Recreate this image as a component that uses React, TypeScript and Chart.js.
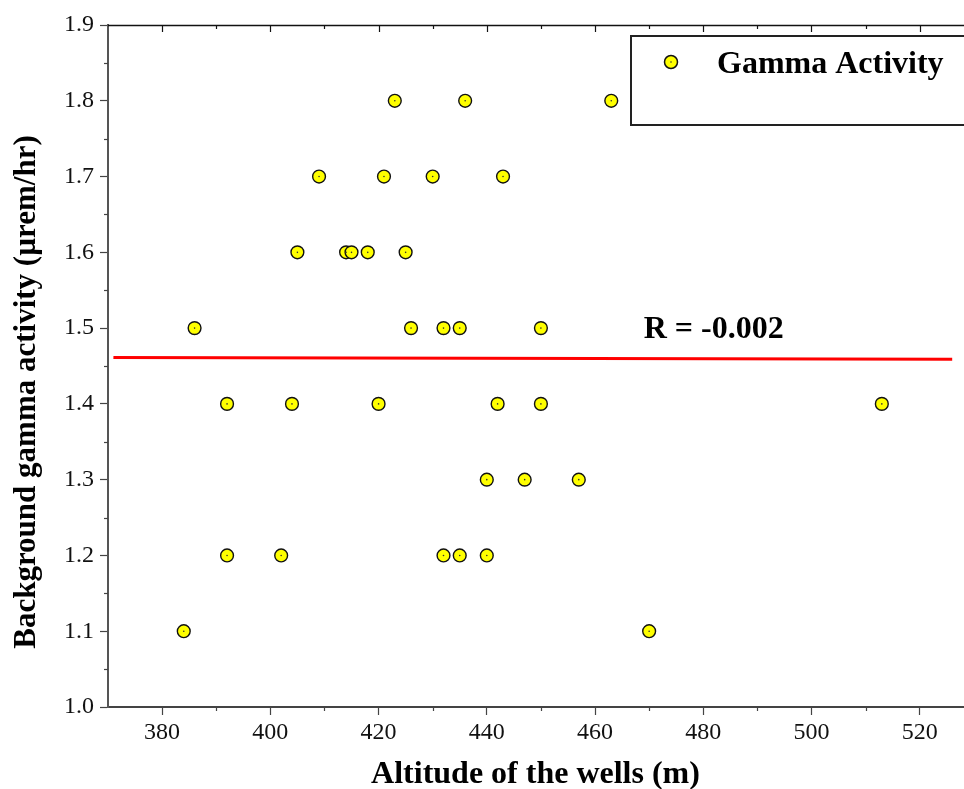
import React, { useEffect, useRef } from "react";
import { Chart, registerables } from "chart.js";

Chart.register(...registerables);

// ---- data ----
const altitude = [
  423, 436, 463,
  409, 421, 430, 443,
  405, 414, 415, 418, 425,
  386, 426, 432, 435, 450,
  392, 404, 420, 442, 450, 513,
  440, 447, 457,
  392, 402, 432, 435, 440,
  384, 470,
];
const gamma = [
  1.8, 1.8, 1.8,
  1.7, 1.7, 1.7, 1.7,
  1.6, 1.6, 1.6, 1.6, 1.6,
  1.5, 1.5, 1.5, 1.5, 1.5,
  1.4, 1.4, 1.4, 1.4, 1.4, 1.4,
  1.3, 1.3, 1.3,
  1.2, 1.2, 1.2, 1.2, 1.2,
  1.1, 1.1,
];
const fitX = [371, 526];
const fitY = [1.4613, 1.4588];

const xTickValues = [380, 400, 420, 440, 460, 480, 500, 520];
const xMinorTicks = [390, 410, 430, 450, 470, 490, 510];
const yTickValues = [1.0, 1.1, 1.2, 1.3, 1.4, 1.5, 1.6, 1.7, 1.8, 1.9];
const yMinorTicks = [1.05, 1.15, 1.25, 1.35, 1.45, 1.55, 1.65, 1.75, 1.85];

const xMin = 370;
const xMax = 528;
const yMin = 1.0;
const yMax = 1.9;

const seriesLabel = "Gamma Activity";
const rLabel = "R = -0.002";
const rLabelPos = { x: 469, y: 1.487 };
const xTitle = "Altitude of the wells (m)";
const yTitle = "Background gamma activity (\u00b5rem/hr)";

const FONT = '"Liberation Serif", "Times New Roman", Times, serif';

const decorPlugin = {
  id: "decor",
  afterDatasetsDraw(chart: any) {
    const { ctx, chartArea } = chart;
    const xs = chart.scales.x;
    const ys = chart.scales.y;
    ctx.save();
    // top frame line
    ctx.strokeStyle = "#111";
    ctx.lineWidth = 1.5;
    ctx.beginPath();
    ctx.moveTo(chartArea.left, chartArea.top + 0.5);
    ctx.lineTo(chart.width + 5, chartArea.top + 0.5);
    ctx.stroke();
    // top ticks (inward)
    ctx.lineWidth = 1.2;
    for (const v of xTickValues) {
      const px = Math.round(xs.getPixelForValue(v)) + 0.5;
      ctx.beginPath();
      ctx.moveTo(px, chartArea.top);
      ctx.lineTo(px, chartArea.top + 7);
      ctx.stroke();
    }
    for (const v of xMinorTicks) {
      const px = Math.round(xs.getPixelForValue(v)) + 0.5;
      ctx.beginPath();
      ctx.moveTo(px, chartArea.top);
      ctx.lineTo(px, chartArea.top + 4);
      ctx.stroke();
    }
    // bottom minor ticks (outward)
    ctx.strokeStyle = "#444";
    for (const v of xMinorTicks) {
      const px = Math.round(xs.getPixelForValue(v)) + 0.5;
      ctx.beginPath();
      ctx.moveTo(px, chartArea.bottom);
      ctx.lineTo(px, chartArea.bottom + 4);
      ctx.stroke();
    }
    // left minor ticks (outward)
    for (const v of yMinorTicks) {
      const py = Math.round(ys.getPixelForValue(v)) + 0.5;
      ctx.beginPath();
      ctx.moveTo(chartArea.left, py);
      ctx.lineTo(chartArea.left - 4, py);
      ctx.stroke();
    }
    ctx.restore();
  },
  afterDraw(chart: any) {
    const { ctx, chartArea } = chart;
    const xs = chart.scales.x;
    const ys = chart.scales.y;
    ctx.save();
    // y axis title
    ctx.save();
    ctx.translate(27, chartArea.top + (chartArea.bottom - chartArea.top) / 2 + 26);
    ctx.rotate(-Math.PI / 2);
    ctx.fillStyle = "#000";
    ctx.font = `bold 31px ${FONT}`;
    ctx.textAlign = "center";
    ctx.textBaseline = "middle";
    ctx.fillText(yTitle, 0, 0);
    ctx.restore();
    // R label
    ctx.fillStyle = "#000";
    ctx.font = `bold 32px ${FONT}`;
    ctx.textBaseline = "alphabetic";
    ctx.textAlign = "left";
    ctx.fillText(rLabel, xs.getPixelForValue(rLabelPos.x), ys.getPixelForValue(rLabelPos.y));
    // legend box
    const bx = chartArea.right - 332;
    const by = chartArea.top + 11;
    const bh = 89;
    ctx.fillStyle = "#fff";
    ctx.fillRect(bx, by, chart.width - bx + 10, bh);
    ctx.strokeStyle = "#222";
    ctx.lineWidth = 2;
    ctx.strokeRect(bx, by, chart.width - bx + 10, bh);
    // legend marker
    const mx = bx + 40;
    const my = by + 26;
    ctx.beginPath();
    ctx.arc(mx, my, 6.5, 0, Math.PI * 2);
    ctx.fillStyle = "#ffff00";
    ctx.fill();
    ctx.lineWidth = 1.5;
    ctx.strokeStyle = "#111";
    ctx.stroke();
    ctx.beginPath();
    ctx.arc(mx, my, 0.8, 0, Math.PI * 2);
    ctx.fillStyle = "#333";
    ctx.fill();
    // legend text
    ctx.fillStyle = "#000";
    ctx.font = `bold 32px ${FONT}`;
    ctx.textBaseline = "alphabetic";
    ctx.fillText(seriesLabel, bx + 86, by + 37);
    ctx.restore();
  },
};

export default function App() {
  const ref = useRef<HTMLCanvasElement | null>(null);
  useEffect(() => {
    if (!ref.current) return;
    const pts = altitude.map((x, i) => ({ x, y: gamma[i] }));
    const fit = fitX.map((x, i) => ({ x, y: fitY[i] }));
    const chart = new Chart(ref.current, {
      type: "scatter",
      data: {
        datasets: [
          {
            label: "centers",
            data: pts,
            pointRadius: 0.8,
            pointBackgroundColor: "#333",
            pointBorderWidth: 0,
            order: 0,
          } as any,
          {
            label: seriesLabel,
            data: pts,
            pointRadius: 6.4,
            pointBackgroundColor: "#ffff00",
            pointBorderColor: "#111",
            pointBorderWidth: 1.4,
            order: 1,
          } as any,
          {
            type: "line",
            label: "fit",
            data: fit,
            borderColor: "#ff0000",
            borderWidth: 3,
            pointRadius: 0,
            fill: false,
            order: 2,
          } as any,
        ],
      },
      options: {
        animation: false,
        responsive: false,
        layout: { autoPadding: false, padding: { top: 25, right: 1, left: 0, bottom: 0 } },
        plugins: {
          legend: { display: false },
          tooltip: { enabled: false },
        },
        scales: {
          x: {
            type: "linear",
            min: xMin,
            max: xMax,
            afterBuildTicks: (s: any) => {
              s.ticks = xTickValues.map((v) => ({ value: v }));
            },
            afterFit: (s: any) => {
              s.height = 82;
            },
            grid: {
              drawOnChartArea: false,
              drawTicks: true,
              tickLength: 8,
              tickColor: "#444",
              tickWidth: 1.2,
            },
            border: { display: true, color: "#444", width: 2 },
            ticks: {
              color: "#111",
              font: { family: FONT, size: 24 },
              padding: 3,
              maxRotation: 0,
              callback: (v: any) => String(v),
            },
            title: {
              display: true,
              text: xTitle,
              color: "#000",
              font: { family: FONT, size: 32, weight: "bold", lineHeight: 1 },
              padding: { top: 0, bottom: -2 },
            },
          },
          y: {
            type: "linear",
            min: yMin,
            max: yMax,
            afterBuildTicks: (s: any) => {
              s.ticks = yTickValues.map((v) => ({ value: v }));
            },
            afterFit: (s: any) => {
              s.width = 108;
            },
            grid: {
              drawOnChartArea: false,
              drawTicks: true,
              tickLength: 8,
              tickColor: "#444",
              tickWidth: 1.2,
            },
            border: { display: true, color: "#555", width: 2 },
            ticks: {
              color: "#111",
              font: { family: FONT, size: 24 },
              padding: 6,
              callback: (v: any) => Number(v).toFixed(1),
            },
            title: { display: false, text: yTitle },
          },
        },
      },
      plugins: [decorPlugin],
    } as any);
    return () => chart.destroy();
  }, []);
  return (
    <div style={{ position: "absolute", left: 0, top: 0, width: 964, height: 789, background: "#fff" }}>
      <canvas ref={ref} width={964} height={789} style={{ width: 964, height: 789, display: "block" }} />
    </div>
  );
}
